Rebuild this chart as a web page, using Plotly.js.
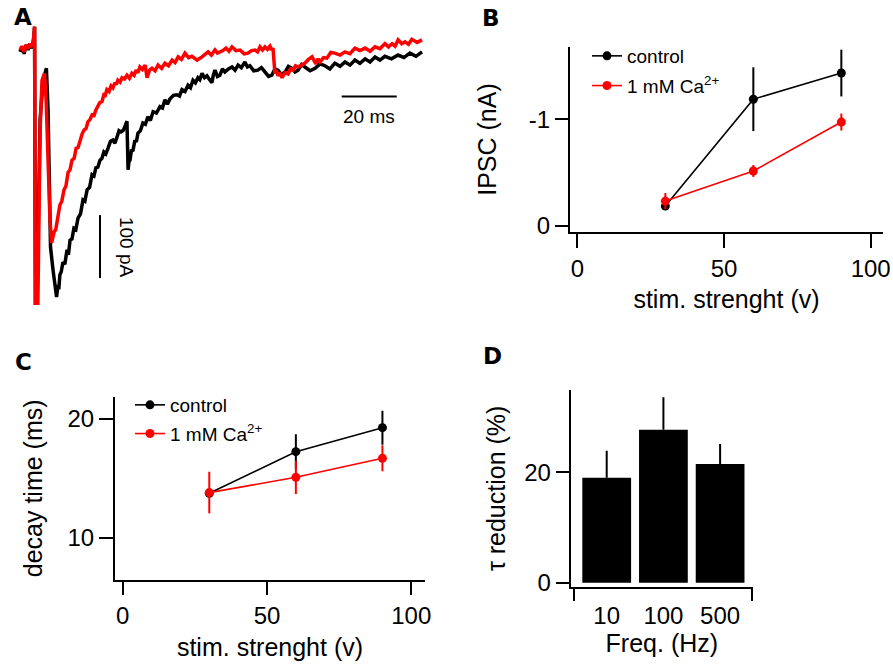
<!DOCTYPE html>
<html>
<head>
<meta charset="utf-8">
<script src="https://cdn.plot.ly/plotly-3.0.1.min.js"></script>
<style>html,body{margin:0;padding:0;background:#fff;}#chart{width:893px;height:665px;}</style>
</head>
<body>
<div id="chart"></div>
<script>
// ---------- Panel A: example IPSC traces (time in ms, current in pA) ----------
const traceCtrlT = [0,0.7,1.5,2.2,2.9,3.6,4.4,4.9,5.3,5.6,6.2,6.7,7.3,8.4,9.6,10.2,10.7,11.1,12.0,13.3,
  13.8,14.1,14.5,15.0,15.6,16.3,17.1,17.6,18.2,18.9,19.6,20.3,21.1,22.0,22.9,23.6,24.4,25.3,26.2,26.9,
  27.6,28.3,29.1,29.8,30.5,31.2,32.0,32.9,33.8,34.5,35.3,36.0,36.7,37.5,38.2,38.9,39.3,39.6,40.0,40.5,
  41.1,41.5,41.8,42.3,42.9,43.8,44.7,45.6,46.5,47.4,48.4,49.6,50.9,51.8,52.7,53.6,54.5,55.8,57.1,58.0,
  58.9,60.0,61.1,62.0,62.9,63.8,64.7,65.4,66.2,67.1,68.0,68.9,69.8,70.3,70.9,71.8,72.7,73.6,74.5,75.8,
  77.1,78.2,79.3,80.5,81.8,82.7,83.6,85.0,86.5,87.8,89.1,90.4,91.6,92.7,93.8,95.1,96.4,97.6,98.9,100.0,
  101.1,102.4,103.6,105.5,107.3,109.1,110.9,112.7,114.5,116.4,118.2,120.0,121.8,123.6,125.5,127.3,129.1,130.9,132.7,135.1,
  137.5,139.6,141.8,144.0,146.2];
const traceCtrlI = [-3,5,-6,8,0,10,3,16,37,-402,-402,-238,-111,-48,-29,-95,-238,-313,-349,-392,
  -373,-380,-357,-352,-337,-340,-317,-325,-302,-300,-283,-285,-267,-260,-238,-240,-222,-218,-198,-200,
  -187,-186,-175,-172,-162,-165,-156,-145,-143,-148,-138,-128,-130,-128,-121,-113,-190,-178,-175,-160,
  -159,-150,-143,-146,-132,-128,-116,-118,-106,-112,-98,-100,-90,-92,-79,-86,-78,-72,-71,-73,
  -63,-66,-56,-60,-48,-52,-44,-47,-37,-44,-41,-47,-52,-40,-32,-42,-40,-30,-35,-30,
  -27,-32,-24,-28,-19,-27,-25,-33,-32,-28,-35,-42,-40,-30,-32,-39,-35,-26,-29,-35,
  -32,-23,-27,-33,-29,-22,-25,-30,-21,-26,-19,-24,-16,-21,-14,-19,-11,-16,-10,-14,
  -8,-12,-5,-10,-3];

const traceCaT = [0,0.7,1.5,2.2,2.9,3.6,4.4,4.9,5.3,5.6,6.5,7.3,8.0,8.9,9.5,10.2,10.9,
  11.5,12.0,12.4,13.0,13.5,14.0,14.5,15.2,16.0,16.7,17.5,18.2,18.9,19.7,20.4,21.1,21.8,22.6,23.3,24.0,
  24.7,25.5,26.2,26.9,27.6,28.4,29.1,29.8,30.5,31.0,31.6,32.4,33.1,33.8,34.5,35.0,35.6,36.4,37.1,38.0,
  38.9,39.8,40.7,41.5,42.2,42.9,43.6,44.5,45.5,46.2,47.1,48.0,49.1,50.2,51.5,52.7,54.0,55.3,56.4,57.5,
  58.7,60.0,61.3,62.5,64.4,66.2,67.3,68.4,69.6,70.9,71.8,72.7,73.8,74.9,76.0,77.1,78.5,80.0,81.5,82.9,
  84.2,85.5,86.4,87.3,88.2,89.1,90.0,90.9,91.5,92.0,92.7,93.3,93.8,94.5,95.3,96.4,97.5,98.4,99.3,100.2,
  101.1,102.4,103.6,104.9,106.2,107.6,108.4,109.1,110.4,111.6,113.0,114.5,116.4,118.2,120.0,121.8,123.6,125.5,127.3,129.1,
  130.9,132.7,134.0,135.3,136.4,137.5,138.8,140.0,141.3,142.5,144.4,146.2];
const traceCaI = [0,6,-3,8,2,10,5,16,37,-402,-402,-127,-48,-37,-79,-175,-270,
  -306,-292,-289,-285,-273,-262,-246,-240,-222,-216,-194,-190,-175,-172,-156,-155,-143,-133,-127,-125,
  -114,-110,-103,-104,-95,-88,-83,-82,-71,-72,-63,-66,-57,-60,-52,-55,-48,-51,-44,-46,
  -40,-45,-37,-40,-32,-36,-27,-31,-24,-44,-32,-29,-33,-24,-29,-21,-25,-16,-20,-11,
  -15,-5,-12,-10,-16,-11,-6,-3,-8,0,-5,-3,-1,3,-2,5,-1,0,-6,-5,
  -1,0,-3,5,0,5,1,6,0,3,-37,-33,-41,-36,-44,-36,-38,-30,-32,-25,
  -27,-24,-21,-15,-11,-22,-14,-19,-12,-13,-4,-5,-8,-3,-6,3,-1,3,-2,5,
  2,10,5,10,6,16,10,13,9,17,12,16];

const scaleBarMs = 20;    // horizontal scale bar, ms
const scaleBarPA = 100;   // vertical scale bar, pA

// ---------- Panel B: IPSC amplitude vs stimulus strength ----------
const stimV = [30, 60, 90];
const ipscCtrl = [-0.185, -1.19, -1.436];
const ipscCtrlErr = [0.03, 0.30, 0.22];
const ipscCa = [-0.232, -0.515, -0.975];
const ipscCaErr = [0.075, 0.056, 0.08];

// ---------- Panel C: decay time vs stimulus strength ----------
const decayCtrl = [13.74, 17.25, 19.27];
const decayCtrlErr = [0.2, 1.46, 1.43];
const decayCa = [13.8, 15.09, 16.69];
const decayCaErr = [1.75, 1.4, 1.1];

// ---------- Panel D: tau reduction vs frequency ----------
const freqLabels = ['10', '100', '500'];
const tauRed = [19.0, 27.7, 21.5];
const tauRedErr = [4.9, 5.9, 3.6];

const legendNames = ['control', '1 mM Ca<sup>2+</sup>'];
const RED = '#ff0000', BLK = '#000000';
const FONT = 'Liberation Sans, Arial, sans-serif';

const W = 893, H = 665;
const dX = (a, b) => [a / W, b / W];
const dY = (top, bottom) => [1 - bottom / H, 1 - top / H];

const traces = [];
// Panel A
traces.push({x: traceCtrlT, y: traceCtrlI, xaxis: 'x', yaxis: 'y', mode: 'lines',
  line: {color: BLK, width: 3.5}, showlegend: false, hoverinfo: 'skip'});
traces.push({x: traceCaT, y: traceCaI, xaxis: 'x', yaxis: 'y', mode: 'lines',
  line: {color: RED, width: 3.5}, showlegend: false, hoverinfo: 'skip'});
// scale bars
const sbX0 = 117, sbY0 = -74;
traces.push({x: [sbX0, sbX0 + scaleBarMs], y: [sbY0, sbY0], xaxis: 'x', yaxis: 'y', mode: 'lines',
  line: {color: BLK, width: 2}, showlegend: false, hoverinfo: 'skip'});
const sbvX = 29.1, sbvY0 = -262;
traces.push({x: [sbvX, sbvX], y: [sbvY0, sbvY0 - scaleBarPA], xaxis: 'x', yaxis: 'y', mode: 'lines',
  line: {color: BLK, width: 2}, showlegend: false, hoverinfo: 'skip'});

// Panel B
traces.push({x: stimV, y: ipscCtrl, xaxis: 'x2', yaxis: 'y2', mode: 'lines+markers', name: legendNames[0],
  legend: 'legend', legendgroup: 'b1',
  line: {color: BLK, width: 1.6}, marker: {color: BLK, size: 9},
  error_y: {type: 'data', array: ipscCtrlErr, color: BLK, thickness: 2, width: 0}});
traces.push({x: stimV, y: ipscCa, xaxis: 'x2', yaxis: 'y2', mode: 'lines+markers', name: legendNames[1],
  legend: 'legend', legendgroup: 'b2',
  line: {color: RED, width: 1.6}, marker: {color: RED, size: 9},
  error_y: {type: 'data', array: ipscCaErr, color: RED, thickness: 2, width: 0}});

// Panel C
traces.push({x: stimV, y: decayCtrl, xaxis: 'x3', yaxis: 'y3', mode: 'lines+markers', name: legendNames[0],
  legend: 'legend2', legendgroup: 'c1',
  line: {color: BLK, width: 1.6}, marker: {color: BLK, size: 9},
  error_y: {type: 'data', array: decayCtrlErr, color: BLK, thickness: 2, width: 0}});
traces.push({x: stimV, y: decayCa, xaxis: 'x3', yaxis: 'y3', mode: 'lines+markers', name: legendNames[1],
  legend: 'legend2', legendgroup: 'c2',
  line: {color: RED, width: 1.6}, marker: {color: RED, size: 9},
  error_y: {type: 'data', array: decayCaErr, color: RED, thickness: 2, width: 0}});

// Panel D
traces.push({x: [0, 1, 2], y: tauRed, xaxis: 'x4', yaxis: 'y4', type: 'bar', showlegend: false,
  marker: {color: BLK, line: {width: 0}}, width: 0.86,
  error_y: {type: 'data', symmetric: false, array: tauRedErr, arrayminus: [0, 0, 0], color: BLK, thickness: 2, width: 0}});
// invisible trace to carry the boundary ticks of D's x axis
traces.push({x: [0], y: [0], xaxis: 'x5', yaxis: 'y4', mode: 'markers', marker: {opacity: 0},
  showlegend: false, hoverinfo: 'skip'});

const tickFont = {family: FONT, size: 24, color: BLK};
const titleFont = {family: FONT, size: 25, color: BLK};
const baseAxis = {showgrid: false, zeroline: false, showline: true, linecolor: BLK, linewidth: 2,
  ticks: 'outside', tickwidth: 2, tickcolor: BLK, tickfont: tickFont, fixedrange: true};
const letterFont = {family: 'DejaVu Sans', size: 23, color: BLK};
const letter = (t, px, py) => ({text: '<b>' + t + '</b>', xref: 'paper', yref: 'paper', x: px / W, y: 1 - py / H,
  xanchor: 'center', yanchor: 'middle', showarrow: false, font: letterFont});

const layout = {
  width: W, height: H, margin: {l: 0, r: 0, t: 0, b: 0},
  paper_bgcolor: '#fff', plot_bgcolor: 'rgba(0,0,0,0)',
  font: {family: FONT, color: BLK},
  showlegend: true,
  // Panel A
  xaxis: {domain: dX(15, 430), range: [-1.82, 149.1], visible: false, fixedrange: true},
  yaxis: {domain: dY(20, 310), range: [-412.7, 47.6], visible: false, fixedrange: true},
  // Panel B
  xaxis2: Object.assign({}, baseAxis, {domain: dX(570, 883), range: [-2.5, 104.2], anchor: 'y2',
    tickvals: [0, 50, 100], ticklen: 14,
    title: {text: 'stim. strenght (v)', font: titleFont, standoff: 10}}),
  yaxis2: Object.assign({}, baseAxis, {domain: dY(47, 232), range: [0.059, -1.681], anchor: 'x2',
    tickvals: [0, -1], ticktext: ['0', '-1'], ticklen: 13,
    title: {text: 'IPSC (nA)', font: titleFont, standoff: 25}}),
  // Panel C
  xaxis3: Object.assign({}, baseAxis, {domain: dX(115, 425), range: [-2.67, 104.75], anchor: 'y3',
    tickvals: [0, 50, 100], ticklen: 13,
    title: {text: 'stim. strenght (v)', font: titleFont, standoff: 11}}),
  yaxis3: Object.assign({}, baseAxis, {domain: dY(396.7, 580), range: [6.44, 21.88], anchor: 'x3',
    tickvals: [10, 20], ticklen: 14,
    title: {text: 'decay time (ms)', font: titleFont, standoff: 18}}),
  // Panel D
  xaxis4: Object.assign({}, baseAxis, {domain: dX(570.7, 753), range: [-0.635, 2.58], anchor: 'y4',
    tickvals: [0, 1, 2], ticktext: freqLabels, ticks: '', ticklabelstandoff: 6,
    title: {text: 'Freq. (Hz)', font: titleFont, standoff: 3}}),
  xaxis5: {domain: dX(570.7, 753), range: [-0.635, 2.58], anchor: 'y4', overlaying: 'x4',
    showgrid: false, zeroline: false, showline: false, ticks: 'outside', ticklen: 13, tickwidth: 2,
    tickcolor: BLK, tickvals: [-0.58, 2.57], showticklabels: false, fixedrange: true},
  yaxis4: Object.assign({}, baseAxis, {domain: dY(390, 586.7), range: [-0.725, 34.9], anchor: 'x4',
    tickvals: [0, 20], ticklen: 13,
    title: {text: '\u03c4 reduction (%)', font: titleFont, standoff: 11}}),
  bargap: 0.14,
  legend: {x: 587 / W, y: 1 - 37 / H, xanchor: 'left', yanchor: 'top', bgcolor: 'rgba(0,0,0,0)',
    font: {family: FONT, size: 19, color: BLK}, tracegroupgap: 2, itemclick: false, itemdoubleclick: false},
  legend2: {x: 130 / W, y: 1 - 386 / H, xanchor: 'left', yanchor: 'top', bgcolor: 'rgba(0,0,0,0)',
    font: {family: FONT, size: 19, color: BLK}, tracegroupgap: 1, itemclick: false, itemdoubleclick: false},
  annotations: [
    letter('A', 23, 17.5),
    letter('B', 491.5, 18),
    letter('C', 23.5, 362),
    letter('D', 492, 355.5),
    {text: scaleBarMs + ' ms', xref: 'x', yref: 'y', x: sbX0 + scaleBarMs / 2, y: -105, showarrow: false,
      xanchor: 'center', yanchor: 'middle', font: {family: FONT, size: 19, color: BLK}},
    {text: scaleBarPA + ' pA', xref: 'x', yref: 'y', x: 38.5, y: -314, textangle: 90, showarrow: false,
      xanchor: 'center', yanchor: 'middle', font: {family: FONT, size: 19, color: BLK}}
  ]
};

Plotly.newPlot('chart', traces, layout, {displayModeBar: false, staticPlot: true});
</script>
</body>
</html>
